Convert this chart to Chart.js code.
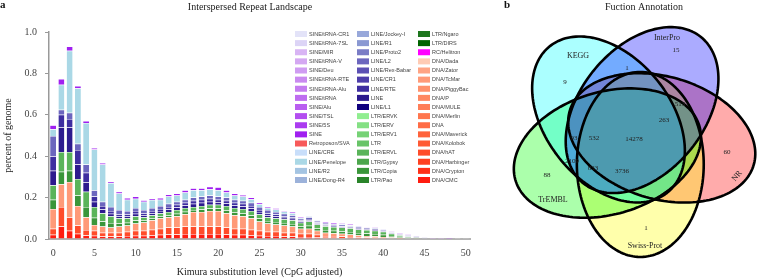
<!DOCTYPE html>
<html>
<head>
<meta charset="utf-8">
<script src="https://cdn.jsdelivr.net/npm/chart.js@4.4.1/dist/chart.umd.min.js"></script>
<style>
    html, body { margin: 0; padding: 0; background: #fff; overflow: hidden; }
    #landscape { position: absolute; left: 0; top: 0; }
    #venn { position: absolute; left: 480px; top: 0; }
</style>
</head>
<body>
<canvas id="landscape" width="472" height="278"></canvas>
<canvas id="venn" width="280" height="278"></canvas>
<script>
const SERIF = '"Liberation Serif", "Times New Roman", serif';
const SANS  = '"Liberation Sans", Arial, sans-serif';

// ---- panel a: repeat landscape ------------------------------------------

// Kimura distance bins 0..50
const kimuraBins = Array.from({ length: 51 }, (_, i) => String(i));

// repeat classes in legend order (top of the stack first)
const repeatClasses = [
    "SINE/tRNA-CR1", "SINE/tRNA-7SL", "SINE/MIR", "SINE/tRNA-V", "SINE/Deu", "SINE/tRNA-RTE",
    "SINE/tRNA-Alu", "SINE/tRNA", "SINE/Alu", "SINE/TSL", "SINE/5S", "SINE", "Retroposon/SVA",
    "LINE/CRE", "LINE/Penelope", "LINE/R2", "LINE/Dong-R4",
    "LINE/Jockey-I", "LINE/R1", "LINE/Proto2", "LINE/L2", "LINE/Rex-Babar", "LINE/CR1", "LINE/RTE",
    "LINE", "LINE/L1", "LTR/ERVK", "LTR/ERV", "LTR/ERV1", "LTR", "LTR/ERVL", "LTR/Gypsy",
    "LTR/Copia", "LTR/Pao",
    "LTR/Ngaro", "LTR/DIRS", "RC/Helitron", "DNA/Dada", "DNA/Zator", "DNA/TcMar", "DNA/PiggyBac",
    "DNA/P", "DNA/MULE", "DNA/Merlin", "DNA", "DNA/Maverick", "DNA/Kolobok", "DNA/hAT",
    "DNA/Harbinger", "DNA/Crypton", "DNA/CMC"
];

const repeatColours = [
    "#e3e3f8", "#dcd4f6", "#d8b4f4", "#d4a8f2", "#cf9cf2", "#c98af0",
    "#c47cf0", "#be6cf0", "#b95ef0", "#b34ef0", "#ab3cf0", "#a020f0", "#f75a5a",
    "#c8defa", "#aad8e6", "#a4c4e2", "#9cb2da",
    "#98a8da", "#8a98d2", "#7a7cc6", "#6c66be", "#5c50b4", "#4e3eaa", "#3e2ea0",
    "#2c1a8e", "#10007e", "#90ee90", "#84e084", "#76d276", "#68c468", "#5ab45a", "#4ca64c",
    "#3a963a", "#2a842a",
    "#1e761e", "#006400", "#ff00ff", "#ffcbb4", "#ffa484", "#ff9a78", "#ff916c",
    "#ff8862", "#ff7e58", "#ff764e", "#ff6c46", "#ff633c", "#ff5a34", "#ff4c2a",
    "#ff4020", "#ff3018", "#ff1c10"
];

// percent of genome per bin (segment sizes)
const dnaCmc = [
    .02, .06, .04, .025, .017, .016, .012, .012, .012, .014,
    .016, .016, .018, .02, .022, .022, .024, .024, .024, .024,
    .024, .022, .02, .02, .018, .016, .014, .014, .012, .012,
    .01, .01, .008, .006, .006, .005, .004, .003, .003, .002,
    .002, .002, .001, .001, 0, 0, 0, 0, 0, 0, 0
];
const dnaHat = [
    .03, .095, .065, .04, .026, .024, .018, .018, .018, .021,
    .024, .024, .027, .03, .033, .033, .036, .036, .036, .036,
    .036, .033, .03, .03, .027, .024, .021, .021, .018, .018,
    .015, .015, .012, .009, .009, .007, .006, .005, .004, .004,
    .003, .002, .002, .001, .001, 0, 0, 0, 0, 0, 0
];
const dnaTcMar = [
    .095, .11, .17, .095, .062, .028, .03, .025, .03, .03,
    .035, .04, .045, .05, .05, .055, .06, .07, .07, .075,
    .075, .07, .065, .06, .055, .045, .04, .035, .035, .03,
    .025, .025, .02, .015, .013, .013, .012, .01, .008, .007,
    .005, .004, .003, .002, .002, .001, 0, 0, 0, 0, 0
];
const ltrCopia = [
    .045, .06, .055, .05, .05, .035, .025, .022, .016, .014,
    .014, .01, .01, .01, .01, .012, .012, .01, .012, .012,
    .012, .014, .014, .014, .014, .014, .012, .012, .012, .012,
    .011, .014, .012, .013, .012, .012, .012, .011, .011, .011,
    .01, .007, .005, .003, .002, .001, 0, 0, 0, 0, 0
];
const ltrErvl = [
    .07, .095, .09, .08, .073, .052, .04, .033, .024, .021,
    .021, .015, .015, .015, .015, .018, .018, .015, .018, .018,
    .018, .021, .021, .021, .021, .021, .018, .018, .018, .018,
    .017, .021, .018, .019, .018, .019, .018, .017, .017, .016,
    .015, .01, .007, .005, .002, .002, .001, .001, .001, 0, 0
];
const lineLine = [
    .07, .12, .12, .07, .046, .025, .018, .012, .01, .01,
    .012, .01, .01, .01, .012, .012, .012, .015, .015, .015,
    .012, .012, .012, .012, .012, .01, .01, .009, .008, .008,
    .006, .006, .005, .004, .004, .004, .004, .004, .004, .004,
    .003, .003, .003, .002, .002, .001, .001, .001, .001, .001, .001
];
const lineRte = [
    .07, .06, .04, .07, .046, .025, .017, .013, .01, .01,
    .013, .01, .01, .01, .013, .013, .013, .015, .015, .015,
    .013, .013, .013, .013, .013, .01, .01, .009, .007, .007,
    .006, .006, .005, .004, .003, .003, .004, .003, .003, .003,
    .003, .003, .002, .002, .001, .001, 0, 0, 0, 0, 0
];
const lineL2 = [
    .097, .025, .03, .03, .04, .03, .02, .02, .02, .015,
    .015, .015, .015, .015, .015, .015, .015, .015, .015, .015,
    .015, .015, .015, .015, .015, .015, .015, .012, .012, .01,
    .008, .008, .007, .007, .006, .006, .005, .005, .005, .004,
    .004, .004, .003, .003, .002, .001, .001, .001, .001, .001, 0
];
const linePenelope = [
    .033, .12, .30, .268, .20, .197, .18, .115, .08, .055,
    .045, .04, .038, .03, .035, .03, .035, .035, .03, .03,
    .03, .025, .02, .02, .017, .013, .01, .012, .011, .01,
    .005, .005, .003, .002, .002, .003, .003, .002, .002, .002,
    .002, .001, .001, .001, .001, .001, 0, 0, 0, 0, 0
];
const sine = [
    .02, .028, .02, .011, .01, .008, .007, .007, .008, .008,
    .01, .007, .007, .008, .01, .01, .01, .01, .01, .012,
    .015, .01, .01, .007, .008, .007, .005, .006, .005, .005,
    .005, .003, .002, .003, .004, .004, .003, .003, .003, .003,
    .003, .003, .003, .003, .002, .002, .002, .002, .003, .002, .001
];

const repeatValues = {
    "DNA/CMC": dnaCmc,
    "DNA/hAT": dnaHat,
    "DNA/TcMar": dnaTcMar,
    "LTR/Copia": ltrCopia,
    "LTR/ERVL": ltrErvl,
    "LINE": lineLine,
    "LINE/RTE": lineRte,
    "LINE/L2": lineL2,
    "LINE/Penelope": linePenelope,
    "SINE": sine
};

// ---- panel b: function annotation venn ----------------------------------

const vennSets    = ["KEGG", "InterPro", "NR", "Swiss-Prot", "TrEMBL"];
const vennFills   = ["#00ffff", "#0000ff", "#ff0000", "#ffff00", "#00ff00"];
const vennCounts  = [9, 15, 60, 1, 88, 1, 513, 263, 93, 532, 14278, 2109, 833, 3736];

// layout (page pixels) – where each count and set name sits
const vennCountSpots = [
    [565, 82], [676, 50], [727, 152], [646, 228], [547, 175], [627, 68], [680, 104],
    [664, 120], [574, 138], [594, 138], [634, 139], [572, 161], [593, 168], [622, 171]
];
const vennNameSpots = [[578, 56], [667, 38], [737, 176], [645, 246], [553, 200]];
const vennDrawOrder = [2, 3, 4, 0, 1];

const VENN = {
    centre:     { x: 632, y: 137 },
    spread:     28.6,
    major:      92.5,
    minor:      61,
    stretch:    { x: 1.04, y: 1.0 },
    startAngle: 217.8,
    tilt:       16.2
};

/**
 * Outline of one set's ellipse, in page pixels.
 *
 * @param {number} index
 * @returns {number[][]}
 */
function ellipseOutline(index)
{
    const theta = (VENN.startAngle + 72 * index) * Math.PI / 180;
    const phi   = theta + VENN.tilt * Math.PI / 180;
    const cx    = VENN.centre.x + VENN.spread * Math.cos(theta);
    const cy    = VENN.centre.y + VENN.spread * Math.sin(theta);
    const pts   = [];

    for (let k = 0; k < 160; k++) {
        const t  = k / 160 * 2 * Math.PI;
        const ex = VENN.major * Math.cos(t);
        const ey = VENN.minor * Math.sin(t);
        const px = cx + ex * Math.cos(phi) - ey * Math.sin(phi);
        const py = cy + ex * Math.sin(phi) + ey * Math.cos(phi);

        pts.push([
            VENN.centre.x + (px - VENN.centre.x) * VENN.stretch.x,
            VENN.centre.y + (py - VENN.centre.y) * VENN.stretch.y
        ]);
    }

    return pts;
}

// ---- plugins ------------------------------------------------------------

const landscapeDecor = {
    id: "landscapeDecor",
    afterDraw(chart)
    {
        const ctx = chart.ctx;
        ctx.save();

        ctx.fillStyle    = "#111";
        ctx.textBaseline = "middle";
        ctx.font         = "bold 11px " + SERIF;
        ctx.fillText("a", 0, 5);

        ctx.font      = "10px " + SERIF;
        ctx.textAlign = "center";
        ctx.fillStyle = "#222";
        ctx.fillText("Interspersed Repeat Landscape", 250, 7);

        // three-column legend
        const cols = [295, 357, 418];
        ctx.textAlign = "left";
        ctx.font      = "5.5px " + SANS;

        repeatClasses.forEach((name, k) => {
            const x = cols[Math.floor(k / 17)];
            const y = 34 + (k % 17) * 9.125;

            ctx.fillStyle = repeatColours[k];
            ctx.fillRect(x, y - 3, 12, 6);
            ctx.fillStyle = "#444";
            ctx.fillText(name, x + 14, y + 0.3);
        });

        ctx.restore();
    }
};

const vennDecor = {
    id: "vennDecor",
    beforeDatasetsDraw(chart)
    {
        const ctx = chart.ctx;
        const xs  = chart.scales.x;
        const ys  = chart.scales.y;

        const trace = (index) => {
            ctx.beginPath();
            ellipseOutline(index).forEach(([x, y], k) => {
                const px = xs.getPixelForValue(x);
                const py = ys.getPixelForValue(y);
                k ? ctx.lineTo(px, py) : ctx.moveTo(px, py);
            });
            ctx.closePath();
        };

        ctx.save();
        ctx.globalAlpha = 0.33;
        vennDrawOrder.forEach((i) => {
            trace(i);
            ctx.fillStyle = vennFills[i];
            ctx.fill();
        });

        ctx.globalAlpha = 1;
        ctx.lineWidth   = 2.6;
        ctx.lineJoin    = "round";
        ctx.strokeStyle = "#000";
        vennSets.forEach((_, i) => {
            trace(i);
            ctx.stroke();
        });
        ctx.restore();
    },
    afterDatasetsDraw(chart)
    {
        const ctx  = chart.ctx;
        const xs   = chart.scales.x;
        const ys   = chart.scales.y;
        const meta = chart.getDatasetMeta(0);

        ctx.save();
        ctx.textAlign    = "center";
        ctx.textBaseline = "middle";
        ctx.fillStyle    = "#222";

        ctx.font = "7px " + SERIF;
        meta.data.forEach((pt, i) => ctx.fillText(String(vennCounts[i]), pt.x, pt.y));

        ctx.font = "8px " + SERIF;
        vennSets.forEach((name, i) => {
            const [x, y] = vennNameSpots[i];
            ctx.save();
            ctx.translate(xs.getPixelForValue(x), ys.getPixelForValue(y));
            if (name === "NR") {
                ctx.rotate(-50 * Math.PI / 180);
            }
            ctx.fillText(name, 0, 0);
            ctx.restore();
        });

        ctx.fillStyle = "#111";
        ctx.font      = "bold 11px " + SERIF;
        ctx.fillText("b", xs.getPixelForValue(507), ys.getPixelForValue(5));

        ctx.fillStyle = "#222";
        ctx.font      = "10px " + SERIF;
        ctx.fillText("Fuction Annotation", xs.getPixelForValue(644), ys.getPixelForValue(7));
        ctx.restore();
    }
};

// ---- charts -------------------------------------------------------------

const tickFont = { family: SERIF, size: 10 };

new Chart(document.getElementById("landscape"), {
    type: "bar",
    data: {
        labels: kimuraBins,
        datasets: repeatClasses.map((name, k) => ({
            label:           name,
            data:            repeatValues[name] || [],
            backgroundColor: repeatColours[k],
            borderColor:     "#ffffff",
            borderWidth:     { top: 0.5, right: 0, bottom: 0, left: 0 },
            borderSkipped:   false,
            barPercentage:   0.72,
            categoryPercentage: 1.0
        })).reverse()
    },
    options: {
        responsive: false,
        animation:  false,
        layout:     { padding: { left: 0, right: 2, top: 32, bottom: 0 } },
        plugins:    { legend: { display: false }, tooltip: { enabled: false } },
        scales: {
            x: {
                stacked: true,
                grid:    { display: false, drawTicks: false },
                border:  { display: true, color: "#b4b4b4", width: 2 },
                ticks:   {
                    autoSkip: false,
                    maxRotation: 0,
                    padding: 8,
                    color: "#444",
                    font: tickFont,
                    callback(value, index) {
                        return index % 5 === 0 ? this.getLabelForValue(value) : "";
                    }
                },
                title: {
                    display: true,
                    text: "Kimura substitution level (CpG adjusted)",
                    color: "#222",
                    font: tickFont,
                    padding: 0
                },
                afterFit(scale) {
                    scale.height       = 39;
                    scale.paddingLeft  = 0;
                    scale.paddingRight = 0;
                }
            },
            y: {
                stacked: true,
                min: 0,
                max: 1,
                grid:   { drawOnChartArea: false, drawTicks: true, tickLength: 4, color: "#999" },
                border: { display: true, color: "#999", width: 1.5 },
                ticks:  {
                    stepSize: 0.2,
                    padding: 8,
                    color: "#444",
                    font: tickFont,
                    callback: (v) => Number(v).toFixed(1)
                },
                title: {
                    display: true,
                    text: "percent of genome",
                    color: "#222",
                    font: tickFont,
                    padding: { top: 2, bottom: 0 }
                },
                afterFit(scale) { scale.width = 49; }
            }
        }
    },
    plugins: [landscapeDecor]
});

new Chart(document.getElementById("venn"), {
    type: "scatter",
    data: {
        datasets: [{
            data: vennCountSpots.map(([x, y]) => ({ x, y })),
            pointRadius: 0
        }]
    },
    options: {
        responsive: false,
        animation:  false,
        layout:     { padding: 0 },
        plugins:    { legend: { display: false }, tooltip: { enabled: false } },
        scales: {
            x: { type: "linear", display: false, min: 480, max: 760 },
            y: { type: "linear", display: false, min: 0, max: 278, reverse: true }
        }
    },
    plugins: [vennDecor]
});
</script>
</body>
</html>
